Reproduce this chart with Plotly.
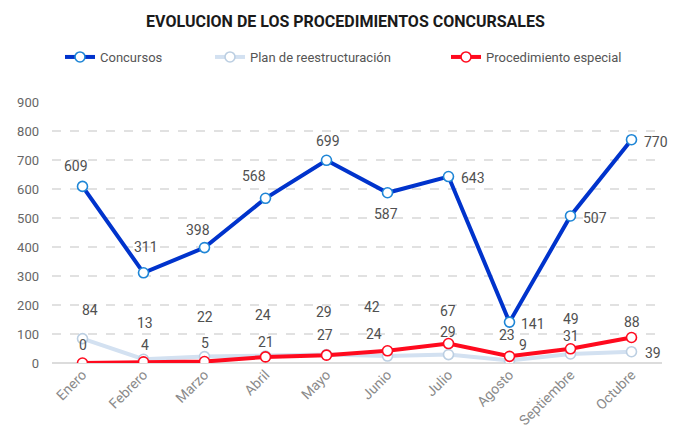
import plotly.graph_objects as go

meses = ["Enero", "Febrero", "Marzo", "Abril", "Mayo", "Junio", "Julio",
         "Agosto", "Septiembre", "Octubre"]
concursos = [609, 311, 398, 568, 699, 587, 643, 141, 507, 770]
plan_reestructuracion = [84, 13, 22, 24, 29, 24, 29, 9, 31, 39]
procedimiento_especial = [0, 4, 5, 21, 27, 42, 67, 23, 49, 88]

# label offsets in pixels (dx, dy) relative to each point, screen y downward
off_concursos = [(-7, -20), (2, -26), (-7, -18), (-12, -22), (1, -19),
                 (-2, 21), (24, 1), (23, 2), (24, 2), (24, 2)]
off_plan = [(7, -29), (1, -36), (0, -40), (-3, -41), (-3, -43),
            (-14, -22), (-1, -23), (13, -15), (0, -18), (21, 1)]
off_especial = [(0, -18), (1, -17), (0, -19), (0, -15), (-2, -20),
                (-16, -44), (-1, -33), (-3, -21), (0, -30), (0, -15)]

FONT = "Roboto, 'Noto Sans', sans-serif"
W, H = 691, 448

series = [
    ("Concursos", concursos, "#0033cc", "#1f86d6", "legend", 60, off_concursos),
    ("Plan de reestructuración", plan_reestructuracion, "#d3e1f1", "#bccfe2", "legend2", 210, off_plan),
    ("Procedimiento especial", procedimiento_especial, "#ff0a1e", "#ff0a1e", "legend3", 446, off_especial),
]

fig = go.Figure()
annotations = []
layout_legends = {}
for name, vals, lc, mc, lg, lx, offs in series:
    fig.add_trace(go.Scatter(
        x=meses, y=vals, name=name, mode="lines+markers",
        line=dict(color=lc, width=4),
        marker=dict(size=10, color="white", line=dict(color=mc, width=1.6)),
        legend=lg, showlegend=True, hoverinfo="skip",
    ))
    layout_legends[lg] = dict(
        orientation="h", xref="container", yref="container",
        x=lx / W, y=1 - 57 / H, xanchor="left", yanchor="middle",
        font=dict(family=FONT, size=13, color="#555555"),
        bgcolor="rgba(0,0,0,0)", itemwidth=30, visible=True,
    )
    for m, v, (dx, dy) in zip(meses, vals, offs):
        annotations.append(dict(
            x=m, y=v, xref="x", yref="y", text=str(v), showarrow=False,
            xshift=dx, yshift=-dy,
            font=dict(family=FONT, size=14, color="#505050"),
        ))

fig.update_layout(
    width=W, height=H, showlegend=True,
    margin=dict(l=52, r=29, t=102, b=85),
    paper_bgcolor="white", plot_bgcolor="white",
    title=dict(text="<b>EVOLUCION DE LOS PROCEDIMIENTOS CONCURSALES</b>",
               x=0.5, xanchor="center", y=1 - 21 / H, yanchor="middle",
               font=dict(family=FONT, size=16, color="#1a1a1a")),
    annotations=annotations,
    **layout_legends,
)
fig.update_xaxes(
    type="category", range=[-0.5, 9.5], showgrid=False, showline=False,
    zeroline=False, tickangle=-45, ticks="",
    tickfont=dict(family=FONT, size=14, color="#8a8a8a"),
)
fig.update_yaxes(
    range=[0, 900], dtick=100, showgrid=True, gridcolor="#e1e1e1",
    griddash="dash", gridwidth=1.5, zeroline=True, zerolinecolor="#dcdcdc",
    zerolinewidth=1.5, showline=False, ticks="", ticklabelstandoff=12,
    tickfont=dict(family=FONT, size=13, color="#666666"),
)

fig.write_html("out.html")
